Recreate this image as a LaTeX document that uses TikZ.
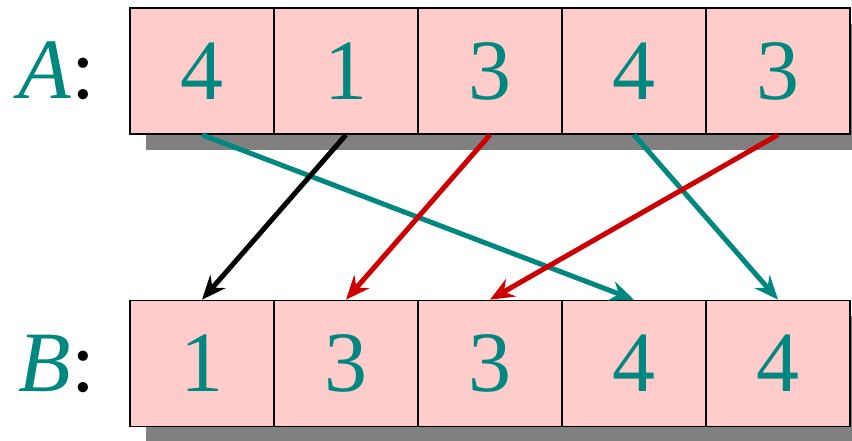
\documentclass[tikz,border=0pt]{standalone}
\usepackage{fontspec}
\setmainfont{Liberation Serif}
\usepackage{tikz}
\usetikzlibrary{positioning,arrows.meta,shadows}
\definecolor{teal600}{HTML}{00877F}
\definecolor{pink200}{HTML}{FFCCCC}
\definecolor{red600} {HTML}{CC0000}
\definecolor{grey500}{HTML}{808080}
\newcommand{\cellfont}{\fontsize{86}{86}\selectfont}
\tikzset{
  cell/.style ={draw=black, line width=1.6pt, fill=pink200,
                minimum width=144pt, minimum height=126pt, inner sep=0pt,
                font=\cellfont, text=teal600,
                drop shadow={shadow xshift=16pt, shadow yshift=-16pt,
                             fill=grey500, opacity=1}},
  lbl/.style  ={font=\cellfont, inner sep=0pt, anchor=east},
  mv/.style   ={-{Stealth[length=24pt, width=20pt, inset=8pt]},
                line width=5pt},
  mvt/.style  ={mv, draw=teal600},
  mvr/.style  ={mv, draw=red600},
  mvk/.style  ={mv, draw=black}
}
\begin{document}
\begin{tikzpicture}[x=1pt, y=1pt]
\useasboundingbox (0,0) rectangle (852,441);

% the two rows
\foreach \v [count=\i] in {4,1,3,4,3}
  \node[cell] (a\i) at (58+144*\i,370) {\v};
\foreach \v [count=\i] in {1,3,3,4,4}
  \node[cell] (b\i) at (58+144*\i,77.5) {\v};

\node[lbl] (la) at ([xshift=-34pt]a1.west) {\textcolor{teal600}{\itshape A}:};
\node[lbl] (lb) at ([xshift=-34pt]b1.west) {\textcolor{teal600}{\itshape B}:};

% where each element goes
\draw[mvt] (a1.south) -- (b4.north);
\draw[mvk] (a2.south) -- (b1.north);
\draw[mvr] (a3.south) -- (b2.north);
\draw[mvt] (a4.south) -- (b5.north);
\draw[mvr] (a5.south) -- (b3.north);
\end{tikzpicture}
\end{document}
